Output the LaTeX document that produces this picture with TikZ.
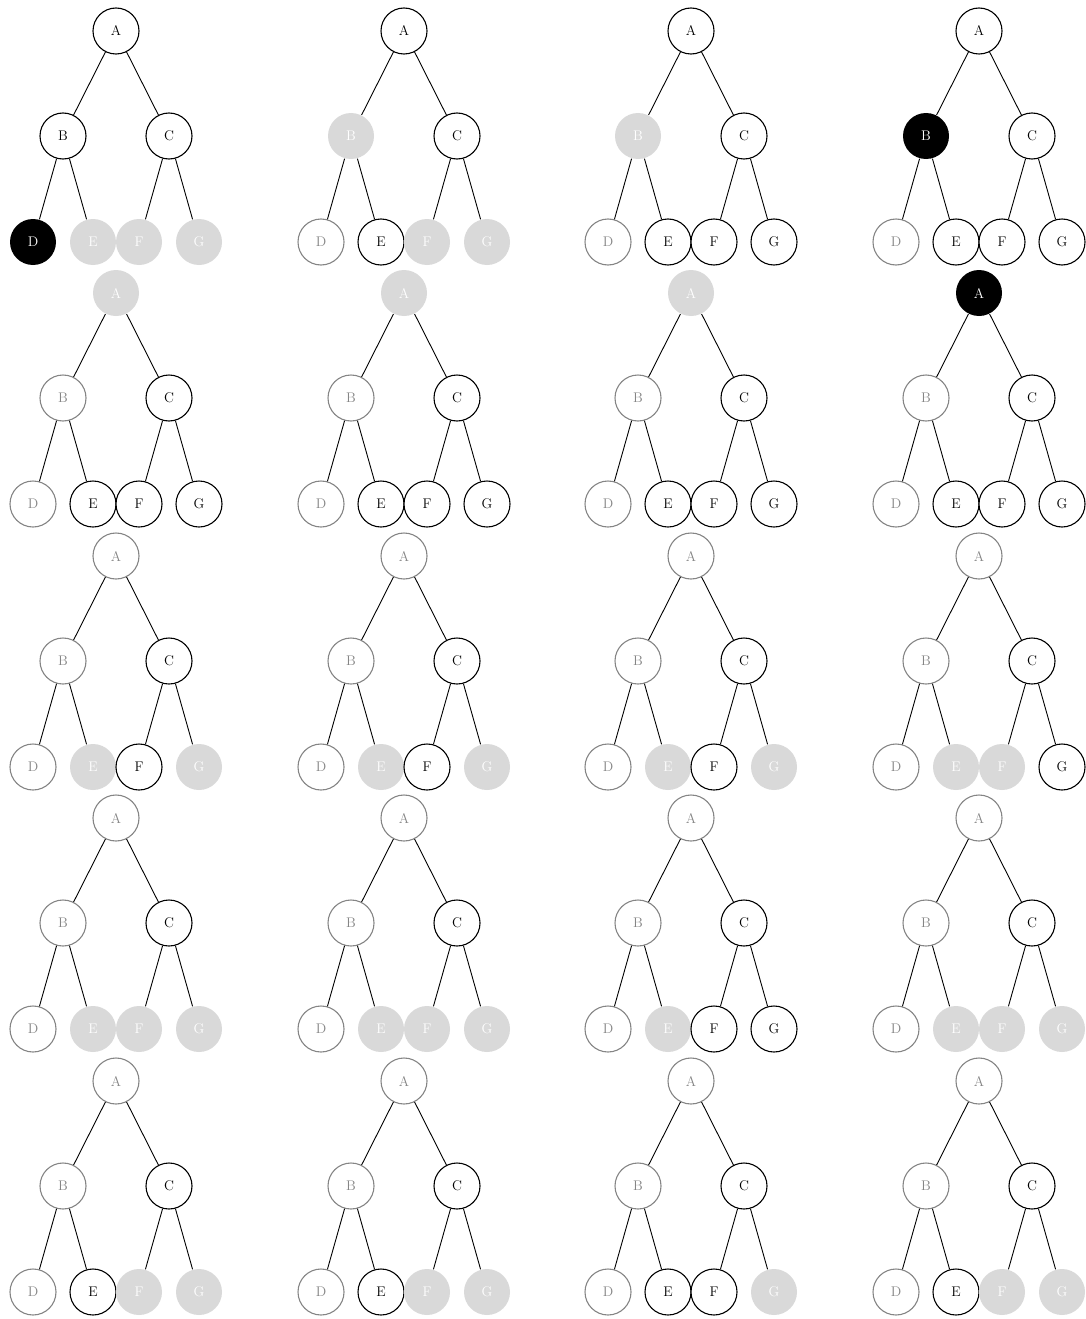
\documentclass[tikz,border=0pt]{standalone}
\usepackage{tikz}
\definecolor{fillgray}{HTML}{D9D9D9}
\definecolor{dimgray}{HTML}{858585}
\begin{document}
\begin{tikzpicture}[x=1pt,y=-1pt,
  base/.style={circle,minimum size=46pt,inner sep=0pt,line width=1.1pt,font=\fontsize{14}{16}\selectfont},
  sN/.style={base,draw=black,fill=white,text=black},
  sG/.style={base,fill=fillgray,text=white},
  sV/.style={base,draw=dimgray,fill=white,text=dimgray},
  sK/.style={base,fill=black,text=white},
  edge/.style={line width=0.9pt,black}]
\useasboundingbox (0,0) rectangle (1086,1319);
% #1 prefix, #2 x, #3 y, #4..#10 states of A..G
\newcommand{\drawtree}[9]{%
  \begin{scope}[shift={(#2,#3)}]
  \node[s#4] (#1A) at (0,0) {A};
  \node[s#5] (#1B) at (-53,105) {B};
  \node[s#6] (#1C) at (53,105) {C};
  \node[s#7] (#1D) at (-83,211) {D};
  \node[s#8] (#1E) at (-23,211) {E};
  \node[s#9] (#1F) at (23,211) {F};
  \end{scope}}
\newcommand{\treeG}[4]{%
  \begin{scope}[shift={(#2,#3)}]
  \node[s#4] (#1G) at (83,211) {G};
  \end{scope}
  \draw[edge] (#1A) -- (#1B);
  \draw[edge] (#1A) -- (#1C);
  \draw[edge] (#1B) -- (#1D);
  \draw[edge] (#1B) -- (#1E);
  \draw[edge] (#1C) -- (#1F);
  \draw[edge] (#1C) -- (#1G);}
% Row 1
\drawtree{a}{116}{31}{N}{N}{N}{K}{G}{G}\treeG{a}{116}{31}{G}
\drawtree{b}{404}{31}{N}{G}{N}{V}{N}{G}\treeG{b}{404}{31}{G}
\drawtree{c}{691}{31}{N}{G}{N}{V}{N}{N}\treeG{c}{691}{31}{N}
\drawtree{d}{979}{31}{N}{K}{N}{V}{N}{N}\treeG{d}{979}{31}{N}
% Row 2
\drawtree{e}{116}{293}{G}{V}{N}{V}{N}{N}\treeG{e}{116}{293}{N}
\drawtree{f}{404}{293}{G}{V}{N}{V}{N}{N}\treeG{f}{404}{293}{N}
\drawtree{g}{691}{293}{G}{V}{N}{V}{N}{N}\treeG{g}{691}{293}{N}
\drawtree{h}{979}{293}{K}{V}{N}{V}{N}{N}\treeG{h}{979}{293}{N}
% Row 3
\drawtree{i}{116}{556}{V}{V}{N}{V}{G}{N}\treeG{i}{116}{556}{G}
\drawtree{j}{404}{556}{V}{V}{N}{V}{G}{N}\treeG{j}{404}{556}{G}
\drawtree{k}{691}{556}{V}{V}{N}{V}{G}{N}\treeG{k}{691}{556}{G}
\drawtree{l}{979}{556}{V}{V}{N}{V}{G}{G}\treeG{l}{979}{556}{N}
% Row 4
\drawtree{m}{116}{818}{V}{V}{N}{V}{G}{G}\treeG{m}{116}{818}{G}
\drawtree{n}{404}{818}{V}{V}{N}{V}{G}{G}\treeG{n}{404}{818}{G}
\drawtree{o}{691}{818}{V}{V}{N}{V}{G}{N}\treeG{o}{691}{818}{N}
\drawtree{p}{979}{818}{V}{V}{N}{V}{G}{G}\treeG{p}{979}{818}{G}
% Row 5
\drawtree{q}{116}{1081}{V}{V}{N}{V}{N}{G}\treeG{q}{116}{1081}{G}
\drawtree{r}{404}{1081}{V}{V}{N}{V}{N}{G}\treeG{r}{404}{1081}{G}
\drawtree{s}{691}{1081}{V}{V}{N}{V}{N}{N}\treeG{s}{691}{1081}{G}
\drawtree{t}{979}{1081}{V}{V}{N}{V}{N}{G}\treeG{t}{979}{1081}{G}
\end{tikzpicture}
\end{document}
